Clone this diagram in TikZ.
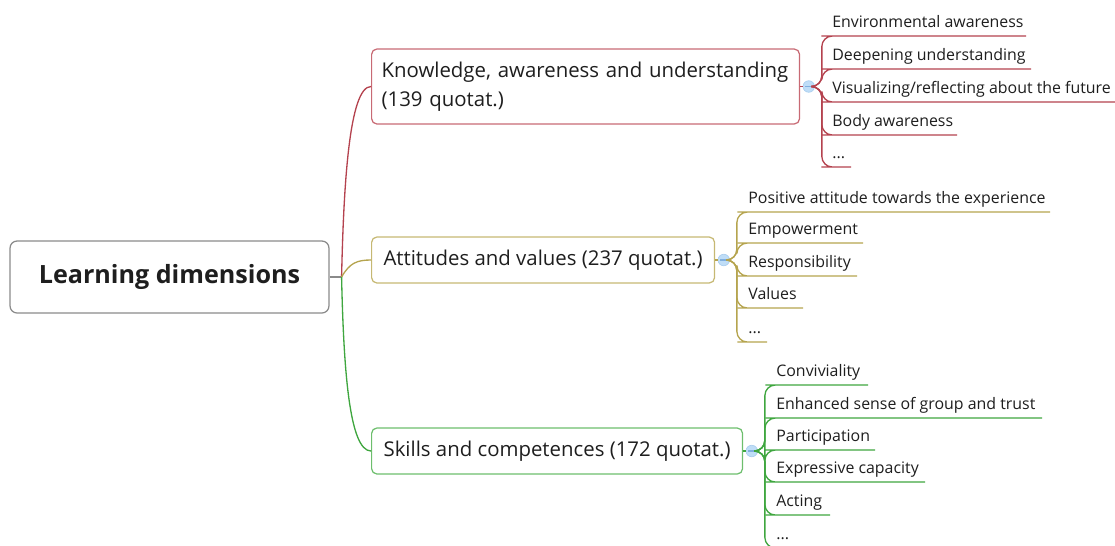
\documentclass[tikz,border=0pt]{standalone}
\usepackage{fontspec}
\setmainfont{Open Sans}
\usepackage{tikz}
\usetikzlibrary{positioning}
\definecolor{MapInk}{HTML}{1E1E1E}
\definecolor{MapGray}{HTML}{8A8A8A}
\definecolor{RedLine}{HTML}{B4424E}
\definecolor{RedEdge}{HTML}{C86A74}
\definecolor{OliveLine}{HTML}{B5A44E}
\definecolor{OliveEdge}{HTML}{C6B873}
\definecolor{GreenLine}{HTML}{3FA63F}
\definecolor{GreenEdge}{HTML}{6DBE6D}
\definecolor{HubFill}{HTML}{BFDDF7}
\definecolor{HubLine}{HTML}{7FAEDD}

\begin{document}
\begin{tikzpicture}[x=0.02cm,y=-0.02cm,
  rootbox/.style={draw=MapGray,line width=0.7pt,rounded corners=4pt,minimum width=6.38cm,minimum height=1.44cm,
    font=\fontsize{14.3}{17}\selectfont\bfseries,text=MapInk},
  topicbox/.style={anchor=west,line width=0.7pt,rounded corners=3pt,align=left,inner xsep=0.2cm,
    font=\fontsize{11.6}{16.5}\selectfont,text=MapInk},
  leaf/.style={anchor=south west,inner xsep=0pt,inner ysep=0pt,text depth=0.16cm,
    font=\fontsize{9.05}{10}\selectfont,text=MapInk},
  hub/.style={circle,fill=HubFill,draw=HubFill!70!HubLine,line width=0.4pt,minimum size=0.23cm,inner sep=0pt,
    path picture={\draw[HubLine,line width=0.9pt] ([xshift=-0.07cm]path picture bounding box.center)
      -- ([xshift=0.07cm]path picture bounding box.center);}},
  branch/.style={line width=0.75pt,rounded corners=6pt}]
  \useasboundingbox (0,0) rectangle (1115,545);
  \clip (0,0) rectangle (1115,545);

  % #1 name, #2 underline y, #3 underline end x, #4 text
  \def\leaf#1#2#3#4{
    \node[leaf] (#1) at (\tx,#2) {#4};
    \coordinate (#1e) at (#3,#2);
    \draw[branch,\brc] (\hub.east) -- ++(7,0) |- (#1.south west) -- (#1e);
  }

  % centre topic
  \node[rootbox] (root) at (169.5,277) {Learning dimensions};
  \coordinate[right=0.24cm of root] (fork);
  \draw[MapGray,line width=0.7pt] (root.east) -- (fork);

  % main topics
  \node[topicbox,draw=RedEdge,text width=8.16cm,minimum height=1.5cm] (t1) at (371,86.5)
    {Knowledge, awareness and understanding\\(139 quotat.)};
  \node[topicbox,draw=OliveEdge,inner xsep=0pt,minimum width=6.86cm,minimum height=0.92cm] (t2) at (371,260)
    {Attitudes and values (237 quotat.)};
  \node[topicbox,draw=GreenEdge,inner xsep=0pt,minimum width=7.42cm,minimum height=0.92cm] (t3) at (371,451)
    {Skills and competences (172 quotat.)};

  \draw[branch,RedLine] (fork) .. controls +(2,-90) and +(-22,0) .. (t1.west);
  \draw[branch,OliveLine] (fork) .. controls +(8,-14) and +(-14,0) .. (t2.west);
  \draw[branch,GreenLine] (fork) .. controls +(2,90) and +(-22,0) .. (t3.west);

  % collapse buttons
  \node[hub,right=0.05cm of t1] (h1) {};
  \node[hub,right=0.05cm of t2] (h2) {};
  \node[hub,right=0.05cm of t3] (h3) {};
  \draw[RedLine,line width=0.75pt] (t1.east) -- (h1);
  \draw[OliveLine,line width=0.75pt] (t2.east) -- (h2);
  \draw[GreenLine,line width=0.75pt] (t3.east) -- (h3);

  % knowledge
  \def\brc{RedLine}\def\hub{h1}\def\tx{832}
  \leaf{k1}{36}{1026}{Environmental awareness}
  \leaf{k2}{69}{1031}{Deepening understanding}
  \leaf{k3}{102}{1115}{Visualizing/reflecting about the future}
  \leaf{k4}{135}{957}{Body awareness}
  \leaf{k5}{167}{851}{...}

  % attitudes
  \def\brc{OliveLine}\def\hub{h2}\def\tx{748}
  \leaf{a1}{212}{1050}{Positive attitude towards the experience}
  \leaf{a2}{243}{863}{Empowerment}
  \leaf{a3}{276}{857}{Responsibility}
  \leaf{a4}{308}{803}{Values}
  \leaf{a5}{342}{767}{...}

  % skills
  \def\brc{GreenLine}\def\hub{h3}\def\tx{776}
  \leaf{s1}{385}{868}{Conviviality}
  \leaf{s2}{418}{1042}{Enhanced sense of group and trust}
  \leaf{s3}{450}{875}{Participation}
  \leaf{s4}{482}{925}{Expressive capacity}
  \leaf{s5}{515}{830}{Acting}
  \leaf{s6}{548}{800}{...}
\end{tikzpicture}
\end{document}
